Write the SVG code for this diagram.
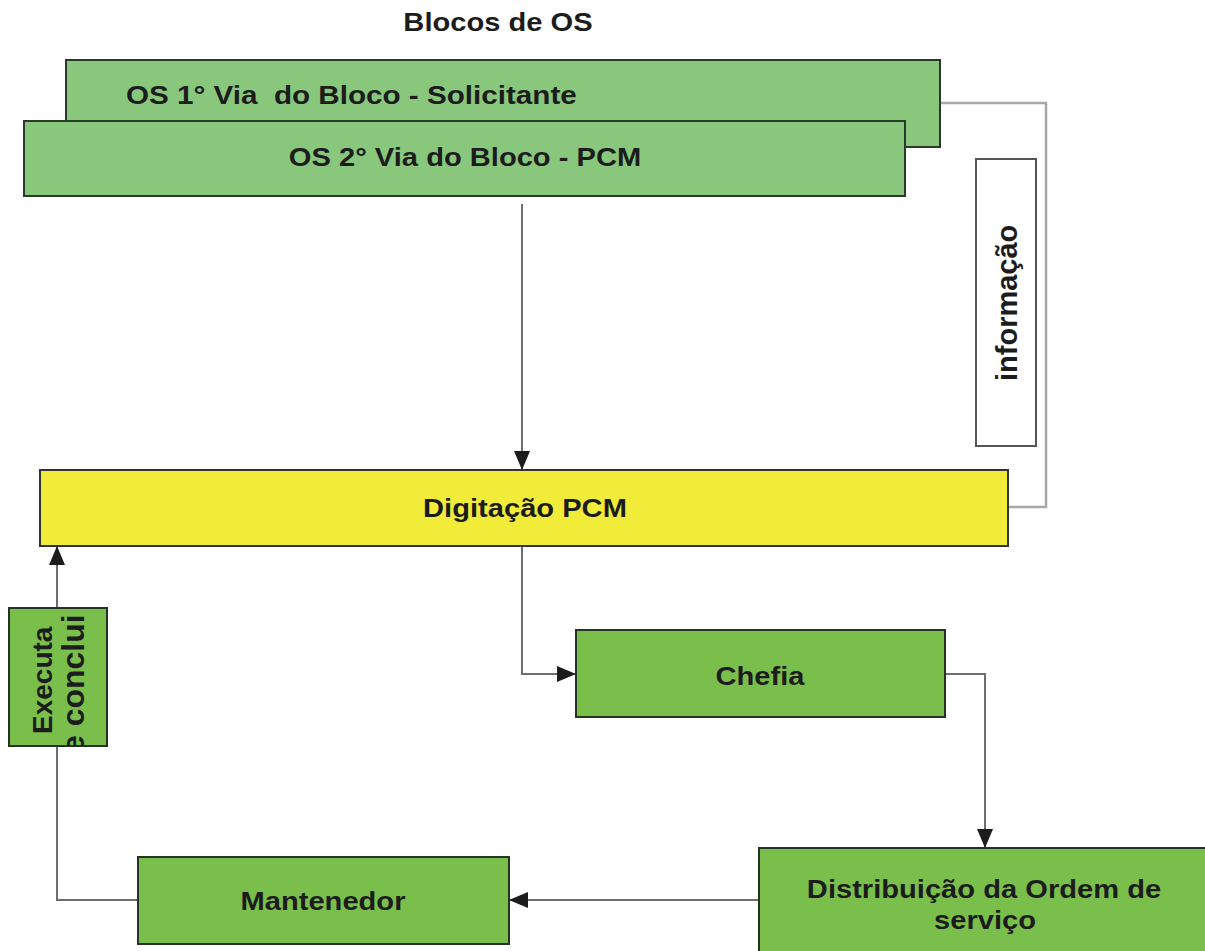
<svg xmlns="http://www.w3.org/2000/svg" width="1205" height="951" viewBox="0 0 1205 951">
  <style>
    .lbl { font-family: "Liberation Sans", Arial, sans-serif; font-weight: bold; font-size: 26px; fill: #1c1c1c; }
    .box-light { fill: #88c77c; stroke: #2a3a28; stroke-width: 2; }
    .box-green { fill: #7abf4b; stroke: #263322; stroke-width: 2; }
    .box-yellow { fill: #f1ec3a; stroke: #333; stroke-width: 2; }
    .box-white { fill: #fff; stroke: #555; stroke-width: 2; }
    .conn { fill: none; stroke: #6e6e6e; stroke-width: 2; }
    .conn-light { fill: none; stroke: #a8a8a8; stroke-width: 2.5; }
  </style>
  <defs>
    <marker id="arrow" viewBox="0 0 19 16" markerUnits="userSpaceOnUse" markerWidth="19" markerHeight="16" refX="19" refY="8" orient="auto">
      <path d="M0,0 L19,8 L0,16 z" fill="#1c1c1c"/>
    </marker>
    <clipPath id="clip-executa">
      <rect x="9" y="608" width="98" height="138"/>
    </clipPath>
  </defs>

  <rect width="1205" height="951" fill="#fff"/>

  <!-- title -->
  <text class="lbl" transform="translate(498,31) scale(1.12,1)" text-anchor="middle">Blocos de OS</text>

  <!-- connectors -->
  <g id="connectors">
    <path class="conn-light" d="M940,103 H1046 V507 H1009"/>
    <path class="conn" d="M522,204 V470" marker-end="url(#arrow)"/>
    <path class="conn" d="M522,546 V674 H576" marker-end="url(#arrow)"/>
    <path class="conn" d="M945,674 H985 V848" marker-end="url(#arrow)"/>
    <path class="conn" d="M759,900 H509" marker-end="url(#arrow)"/>
    <path class="conn" d="M138,900 H57 V546" marker-end="url(#arrow)"/>
  </g>

  <!-- nodes -->
  <g id="os-via1">
    <rect class="box-light" x="66" y="60" width="874" height="87"/>
    <text class="lbl" xml:space="preserve" transform="translate(126,104) scale(1.14,1)">OS 1° Via  do Bloco - Solicitante</text>
  </g>

  <g id="os-via2">
    <rect class="box-light" x="24" y="121" width="881" height="75"/>
    <text class="lbl" transform="translate(465,166) scale(1.12,1)" text-anchor="middle">OS 2° Via do Bloco - PCM</text>
  </g>

  <g id="informacao">
    <rect class="box-white" x="976" y="159" width="60" height="287"/>
    <text class="lbl" transform="translate(1017,381) rotate(-90)" style="font-size:29px">informação</text>
  </g>

  <g id="digitacao-pcm">
    <rect class="box-yellow" x="40" y="470" width="968" height="76"/>
    <text class="lbl" transform="translate(525,517) scale(1.12,1)" text-anchor="middle">Digitação PCM</text>
  </g>

  <g id="chefia">
    <rect class="box-green" x="576" y="630" width="369" height="87"/>
    <text class="lbl" transform="translate(760,685) scale(1.12,1)" text-anchor="middle">Chefia</text>
  </g>

  <g id="distribuicao">
    <rect class="box-green" x="759" y="848" width="460" height="115"/>
    <text class="lbl" transform="translate(984,898) scale(1.12,1)" text-anchor="middle">Distribuição da Ordem de</text>
    <text class="lbl" transform="translate(985,929) scale(1.12,1)" text-anchor="middle">serviço</text>
  </g>

  <g id="mantenedor">
    <rect class="box-green" x="138" y="857" width="371" height="87"/>
    <text class="lbl" transform="translate(323,910) scale(1.12,1)" text-anchor="middle">Mantenedor</text>
  </g>

  <g id="executa">
    <rect class="box-green" x="9" y="608" width="98" height="138"/>
    <g clip-path="url(#clip-executa)">
      <text class="lbl" transform="translate(52,734) rotate(-90)" style="font-size:28px">Executa</text>
      <text class="lbl" transform="translate(84,753) rotate(-90)" style="font-size:32px">e conclui</text>
    </g>
  </g>
</svg>
